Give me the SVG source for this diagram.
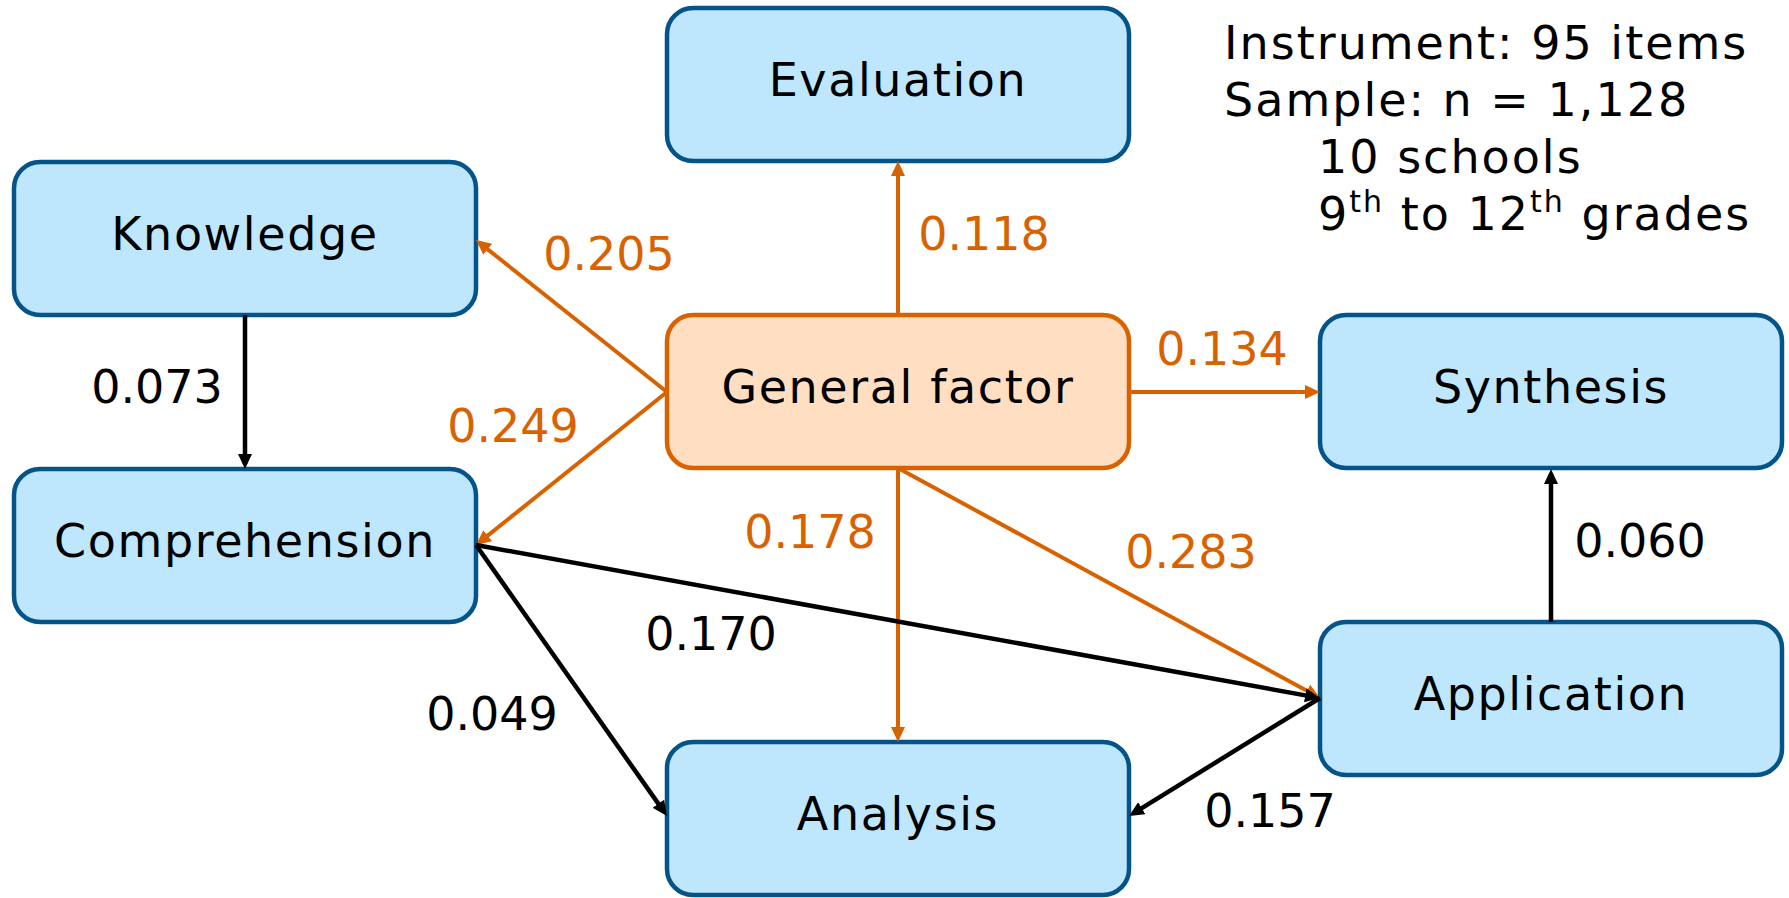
<svg xmlns="http://www.w3.org/2000/svg" width="1789" height="898" viewBox="0 0 1789 898">
  <style>
    .box { fill: #BEE6FC; stroke: #04548A; stroke-width: 4.5; }
    .gf { fill: #FFDEC2; stroke: #D96200; stroke-width: 4.5; }
    .node-label { font-family: "DejaVu Sans", sans-serif; font-size: 46px; letter-spacing: 1.6px; text-anchor: middle; fill: #000; }
    .info { font-family: "DejaVu Sans", sans-serif; font-size: 46px; letter-spacing: 2px; fill: #000; }
    .w { font-family: "DejaVu Sans", sans-serif; font-size: 46px; text-anchor: middle; }
    .w-o { fill: #D96200; }
    .w-k { fill: #000; }
    .e-o { stroke: #D96200; stroke-width: 4; fill: none; }
    .e-k { stroke: #000; stroke-width: 4.5; fill: none; }
  </style>
  <defs>
    <marker id="arrow-o" markerUnits="userSpaceOnUse" markerWidth="15" markerHeight="14" refX="10" refY="7" orient="auto">
      <path d="M0,0 L15,7 L0,14 z" fill="#D96200"/>
    </marker>
    <marker id="arrow-k" markerUnits="userSpaceOnUse" markerWidth="15" markerHeight="14" refX="10" refY="7" orient="auto">
      <path d="M0,0 L15,7 L0,14 z" fill="#000"/>
    </marker>
  </defs>

  <rect width="1789" height="898" fill="#FFFFFF"/>

  <!-- nodes -->
  <g id="evaluation">
    <rect class="box" x="667" y="8" width="462" height="153" rx="26"/>
    <text class="node-label" x="898" y="96">Evaluation</text>
  </g>
  <g id="knowledge">
    <rect class="box" x="14" y="162" width="462" height="153" rx="26"/>
    <text class="node-label" x="245" y="250">Knowledge</text>
  </g>
  <g id="general-factor">
    <rect class="gf" x="667" y="315" width="462" height="153" rx="26"/>
    <text class="node-label" x="898" y="403">General factor</text>
  </g>
  <g id="synthesis">
    <rect class="box" x="1320" y="315" width="462" height="153" rx="26"/>
    <text class="node-label" x="1551" y="403">Synthesis</text>
  </g>
  <g id="comprehension">
    <rect class="box" x="14" y="469" width="462" height="153" rx="26"/>
    <text class="node-label" x="245" y="557">Comprehension</text>
  </g>
  <g id="application">
    <rect class="box" x="1320" y="622" width="462" height="153" rx="26"/>
    <text class="node-label" x="1551" y="710">Application</text>
  </g>
  <g id="analysis">
    <rect class="box" x="667" y="742" width="462" height="153" rx="26"/>
    <text class="node-label" x="898" y="830">Analysis</text>
  </g>

  <!-- connectors -->
  <g id="connectors">
    <path class="e-o" d="M898,315 L898,166" marker-end="url(#arrow-o)"/>
    <path class="e-o" d="M667,392 L479.9,243.1" marker-end="url(#arrow-o)"/>
    <path class="e-o" d="M667,392 L479.9,541.9" marker-end="url(#arrow-o)"/>
    <path class="e-o" d="M1129,392 L1315,392" marker-end="url(#arrow-o)"/>
    <path class="e-o" d="M898,468 L898,737" marker-end="url(#arrow-o)"/>
    <path class="e-o" d="M898,468 L1315.6,695.6" marker-end="url(#arrow-o)"/>
    <path class="e-k" d="M245,315 L245,464" marker-end="url(#arrow-k)"/>
    <path class="e-k" d="M476,545 L1315.1,697.1" marker-end="url(#arrow-k)"/>
    <path class="e-k" d="M476,545 L664.1,811.9" marker-end="url(#arrow-k)"/>
    <path class="e-k" d="M1320,698 L1133.3,813.4" marker-end="url(#arrow-k)"/>
    <path class="e-k" d="M1551,622 L1551,474" marker-end="url(#arrow-k)"/>
  </g>

  <!-- path weights -->
  <g id="weights">
    <text class="w w-o" x="984" y="250">0.118</text>
    <text class="w w-o" x="609" y="270">0.205</text>
    <text class="w w-o" x="1222" y="365">0.134</text>
    <text class="w w-o" x="513" y="442">0.249</text>
    <text class="w w-o" x="810" y="548">0.178</text>
    <text class="w w-o" x="1191" y="568">0.283</text>
    <text class="w w-k" x="157" y="403">0.073</text>
    <text class="w w-k" x="711" y="650">0.170</text>
    <text class="w w-k" x="492" y="730">0.049</text>
    <text class="w w-k" x="1270" y="827">0.157</text>
    <text class="w w-k" x="1640" y="557">0.060</text>
  </g>

  <!-- study details -->
  <g id="info">
    <text class="info" x="1224" y="59">Instrument: 95 items</text>
    <text class="info" x="1224" y="116">Sample: n = 1,128</text>
    <text class="info" x="1318" y="173">10 schools</text>
    <text class="info" x="1318" y="230">9<tspan font-size="30" dy="-18">th</tspan><tspan dy="18"> to 12</tspan><tspan font-size="30" dy="-18">th</tspan><tspan dy="18"> grades</tspan></text>
  </g>
</svg>
